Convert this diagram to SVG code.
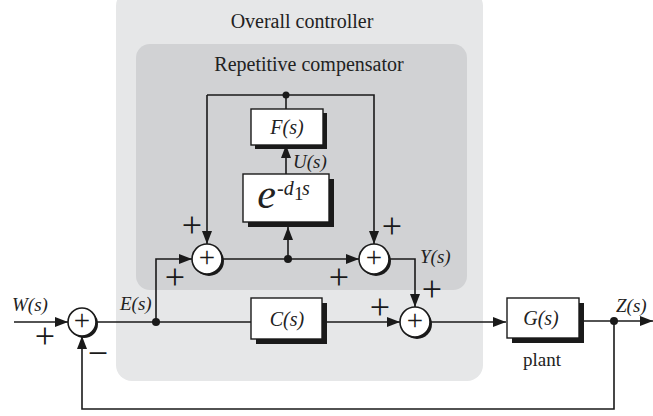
<svg xmlns="http://www.w3.org/2000/svg" width="653" height="416" viewBox="0 0 653 416">
<defs>
<marker id="ah" viewBox="0 0 13 10" refX="13" refY="5" markerWidth="13" markerHeight="10" markerUnits="userSpaceOnUse" orient="auto">
<path d="M0,0 L13,5 L0,10 Z" fill="#1a1a1a"/>
</marker>
<style>
.ln{fill:none;stroke:#1a1a1a;stroke-width:1.6}
.box{fill:#fff;stroke:#1a1a1a;stroke-width:1.4}
.sh{fill:#1a1a1a}
.sum{fill:#fff;stroke:#1a1a1a;stroke-width:1.6}
.t{font-family:"Liberation Serif",serif;fill:#222}
.it{font-family:"Liberation Serif",serif;font-style:italic;fill:#222;font-size:19px}
.pl{font-family:"Liberation Serif",serif;fill:#1a1a1a;font-size:36px}
.pi{font-family:"Liberation Serif",serif;fill:#1a1a1a;font-size:29px}
</style>
</defs>
<rect width="653" height="416" fill="#fff"/>
<g id="overall">
<rect x="116" y="-10" width="367" height="391" rx="16" fill="#e6e7e8"/>
<text class="t" x="302" y="28" font-size="20" text-anchor="middle">Overall controller</text>
</g>
<g id="repetitive">
<rect x="136" y="44" width="331" height="246" rx="14" fill="#d1d2d4"/>
<text class="t" x="309" y="71" font-size="20" text-anchor="middle">Repetitive compensator</text>
</g>
<g id="connectors">
<path class="ln" d="M14,322 H68" marker-end="url(#ah)"/>
<path class="ln" d="M96,322 H251"/>
<path class="ln" d="M322,322 H400" marker-end="url(#ah)"/>
<path class="ln" d="M156,322 V259 H192" marker-end="url(#ah)"/>
<path class="ln" d="M222,259 H359" marker-end="url(#ah)"/>
<path class="ln" d="M288,259 V227" marker-end="url(#ah)"/>
<path class="ln" d="M286,174 V145" marker-end="url(#ah)"/>
<path class="ln" d="M286,109 V95"/>
<path class="ln" d="M207,95 H374 V244" marker-end="url(#ah)"/>
<path class="ln" d="M207,95 V244" marker-end="url(#ah)"/>
<path class="ln" d="M389,259 H415 V307" marker-end="url(#ah)"/>
<path class="ln" d="M430,322 H506" marker-end="url(#ah)"/>
<path class="ln" d="M579,321 H653" marker-end="url(#ah)"/>
<path class="ln" d="M614,321 V409 H82 V336" marker-end="url(#ah)"/>
<circle cx="156" cy="322" r="4" fill="#1a1a1a"/>
<circle cx="288" cy="259" r="4" fill="#1a1a1a"/>
<circle cx="286" cy="95" r="3.5" fill="#1a1a1a"/>
<circle cx="614" cy="321" r="4" fill="#1a1a1a"/>
</g>
<g id="sum1">
<circle cx="84" cy="324" r="14" class="sh"/>
<circle cx="82" cy="322" r="14" class="sum"/>
<text class="pi" x="82" y="330" text-anchor="middle">+</text>
</g>
<g id="sum2">
<circle cx="209" cy="261" r="15" class="sh"/>
<circle cx="207" cy="259" r="15" class="sum"/>
<text class="pi" x="207" y="267" text-anchor="middle">+</text>
</g>
<g id="sum3">
<circle cx="376" cy="261" r="15" class="sh"/>
<circle cx="374" cy="259" r="15" class="sum"/>
<text class="pi" x="374" y="267" text-anchor="middle">+</text>
</g>
<g id="sum4">
<circle cx="417" cy="324" r="15" class="sh"/>
<circle cx="415" cy="322" r="15" class="sum"/>
<text class="pi" x="415" y="330" text-anchor="middle">+</text>
</g>
<g id="F">
<rect x="255" y="113" width="72" height="36" class="sh"/>
<rect x="251" y="109" width="72" height="36" class="box"/>
<text class="it" x="287" y="134" text-anchor="middle" style="font-size:20px">F(s)</text>
</g>
<g id="delay">
<rect x="248" y="179" width="86" height="48" class="sh"/>
<rect x="243" y="174" width="86" height="48" class="box"/>
<text class="it" x="276" y="208" style="font-size:42px" text-anchor="end">e</text>
<text class="it" x="277" y="195" style="font-size:20px">-d</text>
<text class="t" x="294" y="200" font-size="19">1</text>
<text class="it" x="302" y="195" style="font-size:20px">s</text>
</g>
<g id="C">
<rect x="256" y="303" width="71" height="41" class="sh"/>
<rect x="251" y="298" width="71" height="41" class="box"/>
<text class="it" x="287" y="326" text-anchor="middle" style="font-size:20px">C(s)</text>
</g>
<g id="G">
<rect x="512" y="303" width="72" height="40" class="sh"/>
<rect x="507" y="298" width="72" height="40" class="box"/>
<text class="it" x="541" y="325" text-anchor="middle" style="font-size:20px">G(s)</text>
<text class="t" x="542" y="366" font-size="19" text-anchor="middle">plant</text>
</g>
<g id="labels">
<text class="it" x="12" y="311">W(s)</text>
<text class="it" x="120" y="310">E(s)</text>
<text class="it" x="293" y="168">U(s)</text>
<text class="it" x="420" y="263">Y(s)</text>
<text class="it" x="616" y="312">Z(s)</text>
<text class="pl" x="45" y="348" text-anchor="middle">+</text>
<text class="pl" x="98" y="365" text-anchor="middle">−</text>
<text class="pl" x="192" y="237" text-anchor="middle">+</text>
<text class="pl" x="175" y="289" text-anchor="middle">+</text>
<text class="pl" x="392" y="238" text-anchor="middle">+</text>
<text class="pl" x="339" y="289" text-anchor="middle">+</text>
<text class="pl" x="432" y="301" text-anchor="middle">+</text>
<text class="pl" x="380" y="319" text-anchor="middle">+</text>
</g>
</svg>
